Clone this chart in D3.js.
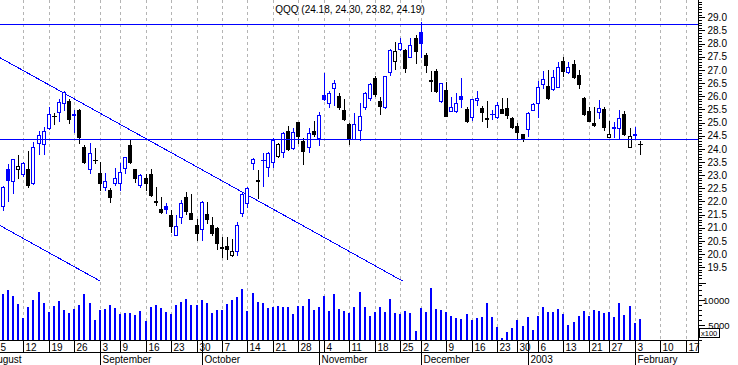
<!DOCTYPE html>
<html><head><meta charset="utf-8">
<script src="https://cdn.jsdelivr.net/npm/d3@7/dist/d3.min.js"></script>
<style>
html,body{margin:0;padding:0;background:#fff;overflow:hidden}
svg{display:block;font-family:"Liberation Sans",Arial,sans-serif}
</style></head><body>
<svg id="c" width="738" height="365"></svg>
<script>
// ---------- DATA ----------
const title = "QQQ (24.18, 24.30, 23.82, 24.19)";
const holidays = ["2002-09-02","2002-11-28","2002-12-25","2003-01-01","2003-01-20"];
const axisFirstDay = "2002-08-01", axisLastDay = "2003-02-21";
const firstCandle = "2002-08-05", lastCandle = "2003-02-04";
const monthNames = ["2003","February","March","April","May","June","July","August","September","October","November","December"];

const open = [22.15,21.83,23.22,22.79,23.22,23.04,23.22,22.69,24.23,24.17,
24.78,25.26,25.41,25.75,25.83,25.30,25.48,24.08,23.22,23.58,
23.09,22.54,22.43,22.69,22.69,23.26,24.14,23.22,22.62,22.88,
23.04,22.00,21.70,21.83,21.48,20.71,21.40,22.18,21.55,21.10,
20.94,21.52,21.10,20.98,20.25,20.30,19.97,20.13,21.57,21.93,
23.47,22.80,23.56,23.32,23.51,23.74,23.89,24.68,24.02,25.01,
24.30,24.08,24.68,24.40,26.05,25.73,26.30,26.01,25.48,24.94,
24.37,24.72,25.58,25.92,26.70,25.83,25.58,26.93,27.35,27.78,
27.76,27.50,28.20,28.45,27.57,26.60,26.96,25.83,26.24,25.45,
25.45,26.01,25.50,25.22,25.85,25.56,25.16,25.33,25.20,25.51,
25.54,25.16,24.87,24.56,24.74,25.48,25.73,26.46,26.39,26.26,
26.36,27.34,26.93,27.22,26.79,25.94,25.44,24.97,25.39,25.53,
24.46,24.78,24.78,25.31,24.08,24.57,24.18];
const high = [22.30,22.60,23.42,23.62,23.76,23.50,23.92,24.24,24.69,24.84,
25.58,25.37,25.89,26.21,25.88,25.47,25.53,24.14,24.23,24.02,
23.50,23.07,22.50,23.26,23.45,23.70,24.36,23.25,23.04,23.04,
23.22,22.56,22.15,21.95,21.67,21.48,22.05,22.37,22.28,21.32,
22.00,21.99,21.42,21.04,20.63,20.63,20.56,21.23,22.37,22.54,
23.64,23.19,23.85,23.89,24.40,24.23,24.65,24.87,24.78,25.02,
24.40,24.78,25.06,25.41,26.87,26.20,26.62,26.14,25.91,24.97,
25.37,25.73,26.17,26.49,26.77,25.96,26.78,27.78,28.07,28.20,
27.78,28.20,28.33,28.83,27.63,26.96,27.02,26.52,26.55,25.96,
26.11,26.68,25.58,25.90,26.20,25.63,25.83,25.48,25.77,25.92,
25.92,25.22,24.97,24.57,25.41,25.73,26.59,26.96,26.99,26.99,
27.31,27.50,27.31,27.38,26.99,25.96,25.58,25.58,25.86,25.58,
25.06,25.03,25.48,25.44,24.78,24.84,24.30];
const low = [21.48,21.67,22.03,22.33,22.88,22.97,22.56,22.65,23.79,23.80,
24.77,24.93,25.06,25.47,24.99,24.65,24.21,23.45,23.07,23.47,
22.44,22.44,21.99,22.62,22.44,23.07,23.45,22.75,22.56,22.44,
22.20,21.86,21.57,21.55,20.85,20.71,21.17,21.52,21.32,20.54,
20.54,21.17,20.72,20.18,19.90,19.80,19.92,19.96,21.45,21.80,
23.22,22.12,22.59,22.97,23.32,23.70,23.70,23.95,23.98,24.21,
23.42,23.89,24.50,24.15,25.87,25.60,25.67,25.50,25.10,24.18,
24.36,24.34,25.50,25.86,26.01,25.32,25.57,26.81,27.02,27.76,
26.93,27.48,27.25,27.50,26.93,26.20,26.17,25.79,25.23,25.43,
25.41,25.60,25.03,25.10,25.67,25.07,24.84,25.12,25.16,25.36,
25.16,24.78,24.37,24.31,24.50,25.47,25.22,26.30,25.88,26.25,
26.34,26.77,26.90,26.68,26.30,25.28,25.06,24.87,25.16,24.72,
24.44,24.46,24.36,24.52,24.06,24.40,23.82];
const close = [21.80,22.54,22.81,23.60,23.35,23.45,22.62,24.06,24.54,24.69,
25.31,25.25,25.77,26.17,25.15,25.31,24.44,23.51,23.83,23.57,
22.69,22.78,22.18,22.88,23.10,23.68,23.49,22.88,23.00,22.69,
22.23,21.99,21.60,21.70,21.05,21.06,21.93,21.65,21.34,20.79,
21.99,21.32,20.79,20.41,20.24,20.20,20.10,21.09,22.27,22.50,
23.60,22.79,23.57,23.83,24.34,24.17,24.61,24.00,24.65,24.50,
23.93,24.59,24.56,25.27,25.88,26.11,26.52,25.58,25.12,24.36,
24.94,25.25,26.11,26.46,26.07,25.63,26.77,27.75,27.72,28.01,
27.06,27.95,27.73,28.01,27.19,26.59,26.20,26.49,25.25,25.60,
25.75,25.88,25.07,25.88,25.93,25.41,25.15,25.34,25.66,25.37,
25.29,24.84,24.65,24.42,25.37,25.69,26.34,26.64,25.92,26.72,
27.12,26.97,27.10,26.74,26.46,25.32,25.07,24.91,25.54,24.84,
24.55,24.82,25.16,24.56,24.49,24.52,24.19];
// volume (x100)
const volume = [9000,11200,12000,10870,9200,6330,8670,10000,11600,9470,
7600,8870,9800,8000,7400,8200,9000,11200,9400,6000,
8000,8200,9000,8400,7200,7400,7400,7070,7800,5800,
8600,9000,8400,7600,7200,9000,9600,10200,9070,9000,
10000,9400,7400,8000,8000,9200,10000,10670,12200,7800,
11400,9600,9400,8400,8670,8800,8600,8600,7200,8800,
8800,10200,8000,8600,10870,7800,11200,8200,7800,7470,
8600,11600,8600,6800,7600,8600,7600,10200,7400,7200,
7800,7400,3800,8400,7600,12400,8200,8000,7600,6800,
6400,6200,7200,6000,6400,6600,9400,6600,4600,2400,
3600,4400,6000,4800,6600,4000,6800,8600,7600,7600,
8200,7200,5000,5600,6800,7800,6800,8000,7800,7400,
7600,6600,9400,7000,8800,5400,6200];
// reference levels and trend channel (date, price)
const hLevels = [28.73, 24.37];
const trendUpper = [["2002-08-05",27.51],["2002-12-11",17.84]];
const trendLower = [["2002-08-05",21.13],["2002-12-11",11.46]];
const priceLabels = [19.5,20,20.5,21,21.5,22,22.5,23,23.5,24,24.5,25,25.5,26,26.5,27,27.5,28,28.5,29];
const volLabels = [5000,10000];

// ---------- HELPERS ----------
function tradingDays(a,b,hol){
  const out=[]; const hs=new Set(hol);
  let d=new Date(a+"T00:00:00Z"); const e=new Date(b+"T00:00:00Z");
  while(d<=e){const w=d.getUTCDay(); const s=d.toISOString().slice(0,10);
    if(w!==0&&w!==6&&!hs.has(s)) out.push(s); d=new Date(d.getTime()+86400000);}
  return out;
}
const allDays = tradingDays(axisFirstDay, axisLastDay, holidays);
const dates = allDays.filter(d=>d>=firstCandle&&d<=lastCandle);

const BLUE="#0000ff";
const axisX=698.5;
const svg=d3.select("#c");
const x=d3.scalePoint().domain(allDays).range([-12.39,706.0]);
const yP=d3.scaleLinear().domain([29,19.5]).range([17.3,267.15]);
const yV=d3.scaleLinear().domain([2000,10000]).range([340,300]);

svg.append("defs").append("clipPath").attr("id","clipP")
  .append("rect").attr("x",0).attr("y",0).attr("width",698).attr("height",281);
svg.append("defs").append("clipPath").attr("id","clipAll")
  .append("rect").attr("x",0).attr("y",0).attr("width",698).attr("height",340);

const dayOf=s=>new Date(s+"T00:00:00Z");
const weekSet=allDays.filter((d,i)=>i===0||dayOf(d).getUTCDay()<dayOf(allDays[i-1]).getUTCDay()||(dayOf(d)-dayOf(allDays[i-1]))>86400000*6);
const monthStarts=allDays.filter((d,i)=>i===0||d.slice(5,7)!==allDays[i-1].slice(5,7));

// gridlines
const gGrid=svg.append("g").attr("clip-path","url(#clipAll)");
weekSet.forEach(d=>{
  const xx=Math.round(x(d))+0.5;
  gGrid.append("line").attr("x1",xx).attr("x2",xx).attr("y1",0).attr("y2",340)
   .attr("stroke","#b4b4b4").attr("stroke-dasharray","3,3").attr("shape-rendering","crispEdges");
});

// trend channel
const gTrend=svg.append("g").attr("clip-path","url(#clipP)");
[trendUpper,trendLower].forEach(t=>{
  gTrend.append("line").attr("x1",x(t[0][0])).attr("y1",yP(t[0][1]))
    .attr("x2",x(t[1][0])).attr("y2",yP(t[1][1]))
    .attr("stroke",BLUE).attr("stroke-width",1).attr("shape-rendering","crispEdges");
});

// candles
const gC=svg.append("g").attr("clip-path","url(#clipP)").attr("shape-rendering","crispEdges");
dates.forEach((d,i)=>{
  const o=open[i],h=high[i],l=low[i],c=close[i];
  const up = i>0 && c>close[i-1];
  const col = up?BLUE:"#000";
  const cx=Math.round(x(d));
  const yh=Math.round(yP(h)), yl=Math.round(yP(l));
  gC.append("rect").attr("x",cx).attr("y",yh).attr("width",1).attr("height",Math.max(1,yl-yh+1)).attr("fill",col);
  const yo=Math.round(yP(o)), yc=Math.round(yP(c));
  const top=Math.min(yo,yc), bot=Math.max(yo,yc);
  if(bot-top<1){
    gC.append("rect").attr("x",cx-2).attr("y",top).attr("width",5).attr("height",1).attr("fill",col);
  } else if(c>o){
    gC.append("rect").attr("x",cx-1.5).attr("y",top+0.5).attr("width",3).attr("height",bot-top)
      .attr("fill","#fff").attr("stroke",col).attr("stroke-width",1);
  } else {
    gC.append("rect").attr("x",cx-2).attr("y",top).attr("width",4).attr("height",bot-top+1).attr("fill",col);
  }
});

// horizontal levels (on top)
hLevels.forEach(p=>{
  const yy=Math.round(yP(p));
  svg.append("rect").attr("x",0).attr("width",698).attr("y",yy).attr("height",1)
    .attr("fill",BLUE).attr("shape-rendering","crispEdges");
});

// volume
const gV=svg.append("g").attr("clip-path","url(#clipAll)").attr("shape-rendering","crispEdges");
dates.forEach((d,i)=>{
  const cx=Math.round(x(d));
  const yy=Math.round(yV(volume[i]));
  gV.append("rect").attr("x",cx-1).attr("y",yy).attr("width",2).attr("height",340-yy).attr("fill",BLUE);
});

// title
svg.append("text").attr("x",350).attr("y",13).attr("text-anchor","middle")
  .attr("font-size",10).attr("fill","#000").text(title);

// right axis
const gA=svg.append("g").attr("shape-rendering","crispEdges");
gA.append("line").attr("x1",axisX).attr("x2",axisX).attr("y1",0).attr("y2",340).attr("stroke","#000");
const minorP=d3.range(191,297).map(v=>v/10);
gA.append("g").attr("transform",`translate(${axisX},0)`)
  .call(d3.axisRight(yP).tickValues(minorP).tickSize(3).tickFormat(""))
  .call(g=>g.select(".domain").remove());
gA.append("g").attr("transform",`translate(${axisX},0)`)
  .call(d3.axisRight(yP).tickValues(priceLabels).tickSize(6).tickPadding(3).tickFormat(d3.format(".1f")))
  .call(g=>g.select(".domain").remove())
  .call(g=>g.selectAll("text").attr("font-size",10).attr("font-family","Liberation Sans, Arial, sans-serif"));
const minorV=d3.range(2000,13001,1000);
gA.append("g").attr("transform",`translate(${axisX},0)`)
  .call(d3.axisRight(yV).tickValues(minorV).tickSize(3).tickFormat(""))
  .call(g=>g.select(".domain").remove());
gA.append("g").attr("transform",`translate(${axisX},0)`)
  .call(d3.axisRight(yV).tickValues(volLabels).tickSize(6).tickPadding(25).tickFormat(d3.format("d")))
  .call(g=>g.select(".domain").remove())
  .call(g=>g.selectAll("text").attr("font-size",9.5).attr("text-anchor","end").attr("font-family","Liberation Sans, Arial, sans-serif"));
gA.append("line").attr("x1",axisX).attr("x2",axisX+7).attr("y1",283.5).attr("y2",283.5).attr("stroke","#000");
// x100 box
gA.append("rect").attr("x",699.5).attr("y",328.5).attr("width",20).attr("height",9).attr("fill","#fff").attr("stroke","#000");
svg.append("text").attr("x",701).attr("y",336).attr("font-size",7.5).text("x100");

// date axis
const gD=svg.append("g").attr("shape-rendering","crispEdges");
gD.append("line").attr("x1",0).attr("x2",axisX).attr("y1",340.5).attr("y2",340.5).attr("stroke","#000");
gD.append("line").attr("x1",0).attr("x2",axisX).attr("y1",352.5).attr("y2",352.5).attr("stroke","#000");
gD.append("line").attr("x1",axisX).attr("x2",axisX).attr("y1",340).attr("y2",353).attr("stroke","#000");
weekSet.forEach(d=>{
  const xx=Math.round(x(d))+0.5;
  if(xx>axisX) return;
  gD.append("line").attr("x1",xx).attr("x2",xx).attr("y1",340).attr("y2",353).attr("stroke","#000");
  svg.append("text").attr("x",xx+2).attr("y",350.5).attr("font-size",10).text(+d.slice(8,10));
});
monthStarts.forEach(d=>{
  const xx=Math.round(x(d))+0.5;
  if(xx>axisX) return;
  gD.append("line").attr("x1",xx).attr("x2",xx).attr("y1",340).attr("y2",365).attr("stroke","#000");
  svg.append("text").attr("x",xx+2).attr("y",363).attr("font-size",10).text(monthNames[+d.slice(5,7)-1]);
});
</script>
</body></html>
